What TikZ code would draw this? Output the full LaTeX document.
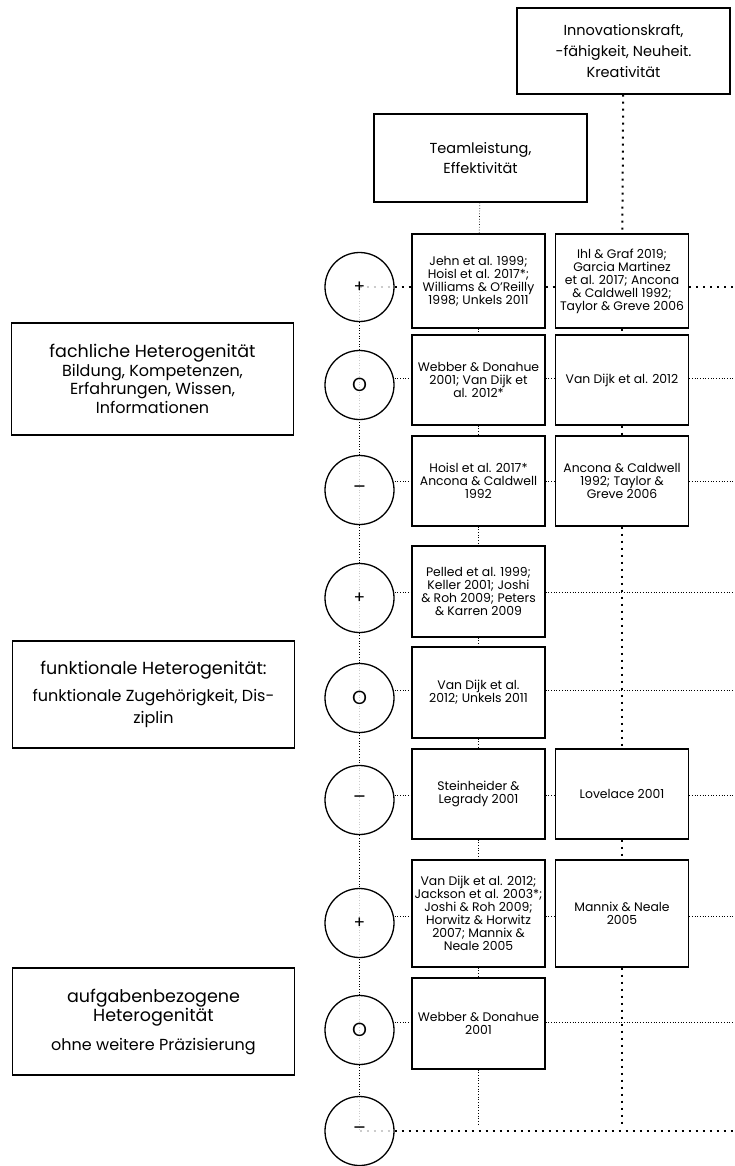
\documentclass[tikz,border=0pt]{standalone}
\usepackage{fontspec}
\setmainfont{Poppins}
\usetikzlibrary{backgrounds}
\newcommand{\facethead}{\fontsize{17.5}{19}\selectfont}
\newcommand{\bigsign}[1]{{\fontsize{19}{19}\selectfont #1}}
\begin{document}
\begin{tikzpicture}[x=1pt,y=-1pt]
        % Styles
        \tikzstyle{frame}=[draw,line width=1.3pt,fill=white,inner sep=0pt,align=center]
        \tikzstyle{goal}=[frame,minimum width=213,font=\fontsize{14.5}{21}\selectfont]
        \tikzstyle{source}=[frame,minimum width=133,font=\fontsize{12.4}{13}\selectfont]
        \tikzstyle{facet}=[frame,minimum width=282,font=\fontsize{16}{18.5}\selectfont]
        \tikzstyle{sign}=[circle,draw,line width=1.3pt,minimum size=69,inner sep=0pt,fill=white,fill opacity=0.8,text opacity=1,font=\fontsize{17}{17}\selectfont]
        \tikzstyle{fine line}=[line width=0.7pt,dotted]
        \tikzstyle{bold line}=[line width=2pt,dash pattern=on 2pt off 5pt]
        \useasboundingbox (0,0) rectangle (734,1166);
        %The graphic
        %outcomes
        \node[goal,minimum height=86] (innov) at (623.5,51) {Innovationskraft,\\-fähigkeit, Neuheit.\\Kreativität};
        \node[goal,minimum height=88,font=\fontsize{14.5}{20}\selectfont] (team) at (480.5,158) {Teamleistung,\\Effektivität};
        %kinds of heterogeneity
        \node[facet,minimum height=112] (fach) at (152.5,379) {\facethead fachliche Heterogenität\\Bildung, Kompetenzen,\\Erfahrungen, Wissen,\\Informationen};
        \node[facet,minimum height=107,font=\fontsize{16}{22}\selectfont] (funk) at (153.5,694.5) {\facethead funktionale Heterogenität:\\[5pt]funktionale Zugehörigkeit, Dis-\\ziplin};
        \node[facet,minimum height=107,font=\fontsize{16}{18}\selectfont] (aufg) at (153.5,1021.5) {\facethead aufgabenbezogene\\\facethead Heterogenität\\[11pt]ohne weitere Präzisierung};
        %signs
        \foreach \n/\y/\s in {1/287/+,2/385/\bigsign{O},3/490/\bigsign{\textendash},4/598/+,5/698/\bigsign{O},6/800/\bigsign{\textendash},7/923/+,8/1030/\bigsign{O},9/1131/\bigsign{\textendash}}
            \node[sign] (sg\n) at (359.5,\y) {\s};
        %sources, Teamleistung
        \node[source,minimum height=94] (tl1) at (478.5,281) {Jehn et al. 1999;\\Hoisl et al. 2017*;\\Williams \& O’Reilly\\1998; Unkels 2011};
        \node[source,minimum height=90] (tl2) at (478.5,380) {Webber \& Donahue\\2001; Van Dijk et\\al. 2012*};
        \node[source,minimum height=90] (tl3) at (478.5,481) {Hoisl et al. 2017*\\Ancona \& Caldwell\\1992};
        \node[source,minimum height=91] (tl4) at (478.5,591.5) {Pelled et al. 1999;\\Keller 2001; Joshi\\\& Roh 2009; Peters\\\& Karren 2009};
        \node[source,minimum height=91] (tl5) at (478.5,692.5) {Van Dijk et al.\\2012; Unkels 2011};
        \node[source,minimum height=90] (tl6) at (478.5,794) {Steinheider \&\\Legrady 2001};
        \node[source,minimum height=107] (tl7) at (478.5,913.5) {Van Dijk et al. 2012;\\Jackson et al. 2003*;\\Joshi \& Roh 2009;\\Horwitz \& Horwitz\\2007; Mannix \&\\Neale 2005};
        \node[source,minimum height=91] (tl8) at (478.5,1023.5) {Webber \& Donahue\\2001};
        %sources, Innovation
        \node[source,minimum height=94] (in1) at (622,281) {Ihl \& Graf 2019;\\Garcia Martinez\\et al. 2017; Ancona\\\& Caldwell 1992;\\Taylor \& Greve 2006};
        \node[source,minimum height=90] (in2) at (622,380) {Van Dijk et al. 2012};
        \node[source,minimum height=90] (in3) at (622,481) {Ancona \& Caldwell\\1992; Taylor \&\\Greve 2006};
        \node[source,minimum height=90] (in6) at (622,794) {Lovelace 2001};
        \node[source,minimum height=107] (in7) at (622,913.5) {Mannix \& Neale\\2005};
        %rows
        \foreach \n/\y in {1/287,2/378,3/481,4/592,5/690,6/795,7/916,8/1022,9/1131}
            \coordinate (row\n) at (0,\y);
        \coordinate (floor) at (0,1126);
        \coordinate (edge) at (734,0);
        \begin{scope}[on background layer]
            %signs column
            \draw[fine line] (sg1.center) -- (sg9.center);
            %Teamleistung column
            \draw[fine line] (team) -- (tl1);
            \foreach \a/\b in {1/2,2/3,3/4,4/5,5/6,6/7,7/8}
                \draw[fine line] (tl\a) -- (tl\b);
            \draw[fine line] (tl8) -- (tl8 |- floor);
            %Innovation column
            \draw[bold line] (innov) -- (in1);
            \foreach \a/\b in {1/2,2/3,3/6,6/7}
                \draw[bold line] (in\a) -- (in\b);
            \draw[bold line] (in7) -- (in7 |- floor);
            %row lines
            \draw[bold line] (sg1.center) -- (tl1.west |- row1);
            \draw[bold line] (tl1.east |- row1) -- (in1.west |- row1);
            \draw[bold line] (in1.east |- row1) -- (edge |- row1);
            \foreach \n in {2,3,6,7} {
                \draw[fine line] (sg\n.east |- row\n) -- (tl\n.west |- row\n);
                \draw[fine line] (tl\n.east |- row\n) -- (in\n.west |- row\n);
                \draw[fine line] (in\n.east |- row\n) -- (edge |- row\n);
            }
            \foreach \n in {4,5,8} {
                \draw[fine line] (sg\n.east |- row\n) -- (tl\n.west |- row\n);
                \draw[fine line] (tl\n.east |- row\n) -- (edge |- row\n);
            }
            \draw[bold line] (sg9.center) -- (edge |- row9);
        \end{scope}
\end{tikzpicture}
\end{document}
